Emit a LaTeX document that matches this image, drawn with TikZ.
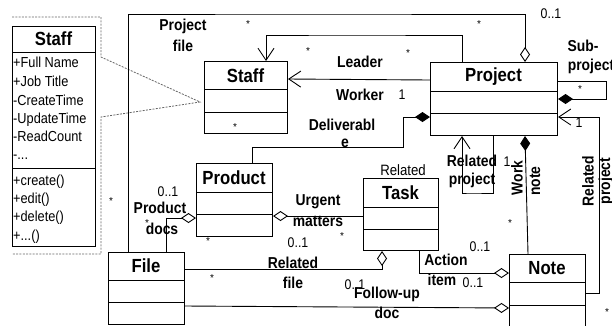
\documentclass[tikz,border=0pt]{standalone}
\usepackage{fontspec}
\setmainfont{Liberation Sans}
\newfontfamily\narrowsans[FakeStretch=0.88]{Liberation Sans}
\usetikzlibrary{arrows.meta}
\begin{document}
\begin{tikzpicture}[x=1pt,y=-1pt,
  clsbox/.style={draw,line width=1pt,anchor=north west,inner sep=0pt},
  divider/.style={line width=1pt},
  clsname/.style={inner sep=0pt,font=\narrowsans\fontsize{19}{21}\selectfont\bfseries},
  member/.style={inner sep=0pt,anchor=base west,font=\narrowsans\fontsize{14.5}{16}\selectfont},
  role/.style={inner sep=0pt,font=\narrowsans\fontsize{15.8}{18}\selectfont\bfseries},
  mult/.style={inner sep=0pt,font=\narrowsans\fontsize{14}{16}\selectfont},
  star/.style={inner sep=0pt,font=\fontsize{10}{11}\selectfont},
  plain/.style={inner sep=0pt,font=\narrowsans\fontsize{15}{17}\selectfont},
  conn/.style={line width=0.9pt},
  odia/.style={-{Diamond[open,length=15pt,width=10pt,line width=0.9pt]}},
  fdia/.style={-{Diamond[length=15pt,width=10pt]}},
  barb/.style={-{Straight Barb[length=12pt,width=16pt,line width=0.9pt]}},
  callout/.style={line width=0.8pt,gray!80!black,dash pattern=on 2pt off 1.3pt}
]
\clip (0,0) rectangle (612,325);

% ---------- detailed Staff class with its callout ----------
\draw[callout] (12,17) -- (101,17) -- (101,57) -- (200,102) -- (101,117) -- (101,254) -- (12,254);
\node[clsbox,fill=white,minimum width=83pt,minimum height=220pt] (staffD) at (12,26) {};
\draw[divider] ([yshift=-26pt]staffD.north west) -- ([yshift=-26pt]staffD.north east);
\draw[divider] ([yshift=-142pt]staffD.north west) -- ([yshift=-142pt]staffD.north east);
\node[clsname] (staffDT) at (53.5,39) {Staff};
\node[member] (sa1) at (13,67) {+Full Name};
\node[member] (sa2) at (13,86) {+Job Title};
\node[member] (sa3) at (13,105) {-CreateTime};
\node[member] (sa4) at (13,123) {-UpdateTime};
\node[member] (sa5) at (13,141) {-ReadCount};
\node[member] (sa6) at (13,159) {-...};
\node[member] (sm1) at (13,185) {+create()};
\node[member] (sm2) at (13,203) {+edit()};
\node[member] (sm3) at (13,221) {+delete()};
\node[member] (sm4) at (13,240) {+...()};

% ---------- class boxes ----------
\node[clsbox,minimum width=83pt,minimum height=72pt] (staff) at (204,61) {};
\draw[divider] ([yshift=-28pt]staff.north west) -- ([yshift=-28pt]staff.north east);
\draw[divider] ([yshift=-51pt]staff.north west) -- ([yshift=-51pt]staff.north east);
\node[clsname] (staffT) at (245.5,75.5) {Staff};

\node[clsbox,minimum width=127pt,minimum height=73pt] (proj) at (430,62) {};
\draw[divider] ([yshift=-29pt]proj.north west) -- ([yshift=-29pt]proj.north east);
\draw[divider] ([yshift=-51pt]proj.north west) -- ([yshift=-51pt]proj.north east);
\node[clsname] (projT) at (493.5,77) {Project};

\node[clsbox,minimum width=76pt,minimum height=73pt] (prod) at (196,163) {};
\draw[divider] ([yshift=-29pt]prod.north west) -- ([yshift=-29pt]prod.north east);
\draw[divider] ([yshift=-51pt]prod.north west) -- ([yshift=-51pt]prod.north east);
\node[clsname] (prodT) at (234,177.5) {Product};

\node[clsbox,minimum width=75pt,minimum height=72pt] (task) at (363,178) {};
\draw[divider] ([yshift=-29pt]task.north west) -- ([yshift=-29pt]task.north east);
\draw[divider] ([yshift=-51pt]task.north west) -- ([yshift=-51pt]task.north east);
\node[clsname] (taskT) at (400.5,192.5) {Task};

\node[clsbox,minimum width=76pt,minimum height=72pt] (file) at (108,252) {};
\draw[divider] ([yshift=-28pt]file.north west) -- ([yshift=-28pt]file.north east);
\draw[divider] ([yshift=-50pt]file.north west) -- ([yshift=-50pt]file.north east);
\node[clsname] (fileT) at (146,266) {File};

\node[clsbox,minimum width=76pt,minimum height=76pt] (note) at (509,254) {};
\draw[divider] ([yshift=-28pt]note.north west) -- ([yshift=-28pt]note.north east);
\draw[divider] ([yshift=-51pt]note.north west) -- ([yshift=-51pt]note.north east);
\node[clsname] (noteT) at (547,268) {Note};

% ---------- routing points ----------
\coordinate (topline) at (300,14);
\coordinate (leadtop) at (350,35);
\coordinate (delivrow) at (403,147);
\coordinate (selfloop) at (470,193);
\coordinate (subcorner) at (606,90);
\coordinate (relcorner) at (599,200);

% ---------- associations ----------
\draw[conn,odia] ([xshift=20pt]file.north west) |- (topline) -| ([xshift=95pt]proj.north west);
\draw[conn,barb] ([xshift=32pt]proj.north west) |- (leadtop) -| ([xshift=62pt]staff.north west);
\draw[conn,barb] ([yshift=-18pt]proj.north west) -- ([yshift=-18pt]staff.north east);
\draw[conn,fdia] ([xshift=56pt]prod.north west) |- (delivrow) |- ([yshift=-55pt]proj.north west);
\draw[conn,barb] ([xshift=63pt]proj.south west) |- (selfloop) -| ([xshift=32pt]proj.south west);
\draw[conn,fdia] ([xshift=19pt]note.north west) -- ([xshift=95pt]proj.south west);
\draw[conn,fdia] ([yshift=-19pt]proj.north east) -| (subcorner) |- ([yshift=-37pt]proj.north east);
\draw[conn,barb] ([yshift=-39pt]note.north east) -| (relcorner) |- ([yshift=-55pt]proj.north east);
\draw[conn,odia] ([xshift=58pt]file.north west) |- ([yshift=-55pt]prod.north west);
\draw[conn,odia] ([yshift=-38pt]task.north west) -- ([yshift=-53pt]prod.north east);
\draw[conn,odia] ([yshift=-17pt]file.north east) -| ([xshift=19pt]task.south west);
\draw[conn,odia] ([yshift=-54pt]file.north east) -- ([yshift=-54pt]note.north west);
\draw[conn,odia] ([xshift=56pt]task.south west) |- ([yshift=-19pt]note.north west);

% ---------- role names and multiplicities ----------
\node[role] (lpf1) at (183,26) {Project};
\node[role] (lpf2) at (183,46) {file};
\node[star] (s1) at (248,24) {*};
\node[star] (s2) at (479,24) {*};
\node[mult] (m1) at (551,14) {0..1};
\node[star] (s3) at (308,51) {*};
\node[star] (s4) at (408,53) {*};
\node[role] (lleader) at (360,62) {Leader};
\node[role] (lworker) at (360,95) {Worker};
\node[mult] (m2) at (402,95) {1};
\node[star] (s5) at (235,127) {*};
\node[role] (ldel1) at (342,125) {Deliverabl};
\node[role] (ldel2) at (345,143) {e};
\node[role] (lsub1) at (583,46) {Sub-};
\node[role] (lsub2) at (591,66) {project};
\node[star] (s6) at (580,89) {*};
\node[mult] (m3) at (579,123) {1};
\node[role] (lrp1) at (472,161) {Related};
\node[role] (lrp2) at (472,180) {project};
\node[mult] (m4) at (507,162) {1};
\node[role,rotate=90] (lwn1) at (517,178) {Work};
\node[role,rotate=90] (lwn2) at (535,181) {note};
\node[star] (s7) at (510,223) {*};
\node[role,rotate=90] (lrr1) at (588,181) {Related};
\node[role,rotate=90] (lrr2) at (606,181) {project};
\node[mult] (m5) at (168,192) {0..1};
\node[role] (lpd1) at (160,208) {Product};
\node[role] (lpd2) at (162,229) {docs};
\node[star] (s8) at (147,223) {*};
\node[star] (s9) at (111,201) {*};
\node[star] (s10) at (208,241) {*};
\node[role] (lum1) at (318,202) {Urgent};
\node[role] (lum2) at (318,221) {matters};
\node[mult] (m6) at (298,243) {0..1};
\node[star] (s11) at (342,236) {*};
\node[plain] (lrel) at (403,170) {Related};
\node[role] (lrf1) at (293,263) {Related};
\node[role] (lrf2) at (293,283) {file};
\node[star] (s12) at (212,278) {*};
\node[mult] (m7) at (355,285) {0..1};
\node[role] (lfu1) at (387,294) {Follow-up};
\node[role] (lfu2) at (387,313) {doc};
\node[star] (s13) at (607,312) {*};
\node[role] (lai1) at (446,260) {Action};
\node[role] (lai2) at (442,280) {item};
\node[mult] (m8) at (473,283) {0..1};
\node[mult] (m9) at (480,247) {0..1};
\end{tikzpicture}
\end{document}
